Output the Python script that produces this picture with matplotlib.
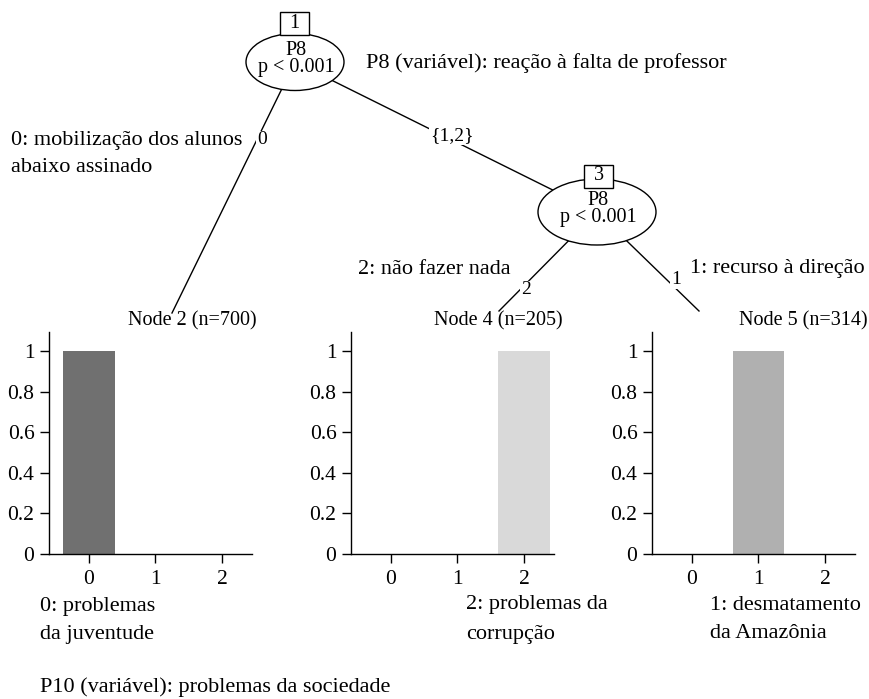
import matplotlib
matplotlib.use("Agg")
import matplotlib.pyplot as plt
from matplotlib.patches import Ellipse, Rectangle

plt.rcParams['font.family'] = ['Liberation Serif', 'DejaVu Serif']

# data of the tree
classes = ['0', '1', '2']
leaf_ids = [2, 4, 5]
leaf_n = [700, 205, 314]
leaf_props = [[1, 0, 0],
              [0, 0, 1],
              [0, 1, 0]]
class_colors = ['#707070', '#b0b0b0', '#d9d9d9']
yticks = [0, 0.2, 0.4, 0.6, 0.8, 1]
ytick_labels = ['0', '0.2', '0.4', '0.6', '0.8', '1']

inner_ids = [1, 3]
inner_var = ['P8', 'P8']
inner_p = ['p < 0.001', 'p < 0.001']
edge_labels = ['0', '{1,2}', '2', '1']

W, H = 870, 699
fig = plt.figure(figsize=(W / 100, H / 100), dpi=100)

tree = fig.add_axes([0, 0, 1, 1])
tree.set_xlim(0, W)
tree.set_ylim(H, 0)
tree.axis('off')

fs_note = 16
fs_node = 14.5
fs_edge = 14

# edges
edges = [((295, 62), (172, 313), (262, 140)),
         ((295, 62), (597, 212), (452, 136)),
         ((597, 212), (499, 311), (526, 290)),
         ((597, 212), (699, 311), (676, 280))]
for (p, c, lab), txt in zip(edges, edge_labels):
    tree.plot([p[0], c[0]], [p[1], c[1]], color='black', lw=1, zorder=1)
    tree.text(lab[0], lab[1], txt, fontsize=fs_edge, ha='center', va='center', zorder=3,
              bbox=dict(facecolor='white', edgecolor='none', pad=0.5))

# inner nodes
nodes = [((295, 62), 98, 57, (294.5, 23)),
         ((597, 212), 118, 66, (599, 176))]
for (ctr, w, h, box), nid, var, pv in zip(nodes, inner_ids, inner_var, inner_p):
    tree.add_patch(Ellipse(ctr, w, h, facecolor='white', edgecolor='black', lw=1, zorder=2))
    tree.add_patch(Rectangle((box[0] - 14.5, box[1] - 11.5), 29, 23, facecolor='white',
                             edgecolor='black', lw=1, zorder=4))
    tree.text(box[0], box[1], str(nid), fontsize=fs_node, ha='center', va='center', zorder=5)
    tree.text(ctr[0] + 1, ctr[1] - 3, var + '\n' + pv, fontsize=fs_node, ha='center',
              va='center', multialignment='center', linespacing=0.85, zorder=5)

# leaf headers
for x, nid, n in zip([257, 563, 868], leaf_ids, leaf_n):
    tree.text(x, 321, 'Node %d (n=%d)' % (nid, n), fontsize=fs_node, ha='right', va='center')

# annotations
notes = [(366, 63, 'P8 (variável): reação à falta de professor'),
         (11, 140, '0: mobilização dos alunos'),
         (11, 168, 'abaixo assinado'),
         (358, 269, '2: não fazer nada'),
         (690, 269, '1: recurso à direção'),
         (40, 607, '0: problemas'),
         (40, 634, 'da juventude'),
         (466, 605, '2: problemas da'),
         (466, 634, 'corrupção'),
         (710, 605, '1: desmatamento'),
         (710, 634, 'da Amazônia'),
         (40, 687, 'P10 (variável): problemas da sociedade')]
for x, y, t in notes:
    tree.text(x, y, t, fontsize=fs_note, ha='left', va='center')

# leaf bar plots
for left, props in zip([49, 351, 652], leaf_props):
    ax = fig.add_axes([left / W, (H - 554) / H, 203 / W, 222 / H])
    ax.set_facecolor('none')
    ax.bar(range(len(classes)), props, width=0.78, color=class_colors, edgecolor='none')
    ax.set_xlim(-0.6, 2.45)
    ax.set_ylim(0, 1.094)
    ax.set_xticks(range(len(classes)))
    ax.set_xticklabels(classes)
    ax.set_yticks(yticks)
    ax.set_yticklabels(ytick_labels)
    ax.spines['top'].set_visible(False)
    ax.spines['right'].set_visible(False)
    for s in ['left', 'bottom']:
        ax.spines[s].set_linewidth(1)
    ax.tick_params(direction='out', length=6.5, width=1, labelsize=15.5, pad=4)
    ax.tick_params(axis='x', pad=5)

fig.savefig('out.png', dpi=100)
